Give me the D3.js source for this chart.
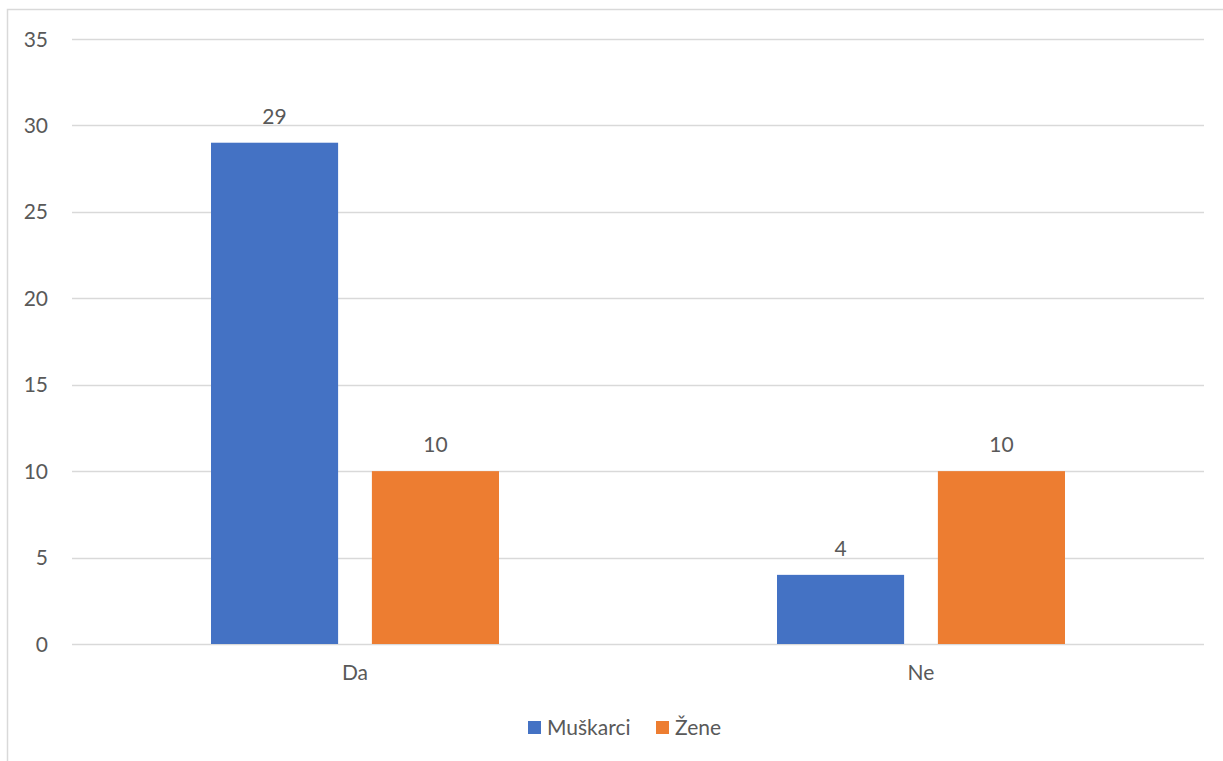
<!DOCTYPE html>
<html>
<head>
<meta charset="utf-8">
<script src="https://cdn.jsdelivr.net/npm/d3@7"></script>
<style>
  body { margin: 0; background: #fff; }
  text { font-family: Lato, "Open Sans", sans-serif; fill: #595959; }
</style>
</head>
<body>
<script>
var categories = ["Da", "Ne"];
var seriesNames = ["Muškarci", "Žene"];
var muskarci = [29, 4];
var zene = [10, 10];
var yTicks = [0, 5, 10, 15, 20, 25, 30, 35];
var colors = ["#4472C4", "#ED7D31"];

var W = 1223, H = 761, fs = 21;
var svg = d3.select("body").append("svg")
    .attr("width", W)
    .attr("height", H);

// chart frame
svg.append("rect")
    .attr("x", 7.5).attr("y", 9.5)
    .attr("width", W + 10).attr("height", H + 10)
    .attr("fill", "none")
    .attr("stroke", "#d9d9d9")
    .attr("stroke-width", 1.5);

var margin = {left: 72, right: 19, top: 39, bottom: 117},
    width = W - margin.left - margin.right,
    height = H - margin.top - margin.bottom,
    g = svg.append("g").attr("transform", "translate(" + margin.left + "," + margin.top + ")");

var y = d3.scaleLinear().domain([0, 35]).range([height, 0]);

var x0 = d3.scaleBand().domain(categories).range([0, width]).paddingInner(0).paddingOuter(0);

var x1 = d3.scaleBand().domain(seriesNames)
    .range([139, x0.bandwidth() - 139])
    .paddingInner(0.21);

// gridlines
g.append("g")
  .selectAll("line")
  .data(yTicks)
  .enter().append("line")
    .attr("x1", 0).attr("x2", width)
    .attr("y1", function(d) { return Math.round(y(d)) + 0.5; })
    .attr("y2", function(d) { return Math.round(y(d)) + 0.5; })
    .attr("stroke", "#d9d9d9")
    .attr("stroke-width", 1.3);

// y tick labels
g.append("g")
  .selectAll("text")
  .data(yTicks)
  .enter().append("text")
    .attr("x", -24)
    .attr("y", function(d) { return y(d); })
    .attr("dy", "0.36em")
    .attr("text-anchor", "end")
    .attr("font-size", fs)
    .text(function(d) { return d; });

var rows = categories.map(function(c, i) {
  return {cat: c, values: [muskarci[i], zene[i]]};
});

var groups = g.selectAll(".grp")
    .data(rows)
  .enter().append("g")
    .attr("class", "grp")
    .attr("transform", function(d) { return "translate(" + x0(d.cat) + ",0)"; });

groups.selectAll("rect")
    .data(function(d) { return d.values.map(function(v, j) { return {name: seriesNames[j], v: v, j: j}; }); })
  .enter().append("rect")
    .attr("x", function(d) { return x1(d.name); })
    .attr("width", x1.bandwidth())
    .attr("y", function(d) { return y(d.v); })
    .attr("height", function(d) { return y(0) - y(d.v); })
    .attr("fill", function(d) { return colors[d.j]; });

groups.selectAll(".lbl")
    .data(function(d) { return d.values.map(function(v, j) { return {name: seriesNames[j], v: v}; }); })
  .enter().append("text")
    .attr("class", "lbl")
    .attr("x", function(d) { return x1(d.name) + x1.bandwidth() / 2; })
    .attr("y", function(d) { return y(d.v) - 19; })
    .attr("text-anchor", "middle")
    .attr("font-size", fs)
    .text(function(d) { return d.v; });

// category labels
g.append("g")
  .selectAll("text")
  .data(categories)
  .enter().append("text")
    .attr("x", function(d) { return x0(d) + x0.bandwidth() / 2; })
    .attr("y", height + 36)
    .attr("text-anchor", "middle")
    .attr("font-size", fs)
    .text(function(d) { return d; });

// legend
var legendX = [528, 656];
var legend = svg.append("g");
seriesNames.forEach(function(name, i) {
  legend.append("rect")
      .attr("x", legendX[i]).attr("y", 721)
      .attr("width", 13).attr("height", 13)
      .attr("fill", colors[i]);
  legend.append("text")
      .attr("x", legendX[i] + 19)
      .attr("y", 735)
      .attr("font-size", fs)
      .text(name);
});
</script>
</body>
</html>
